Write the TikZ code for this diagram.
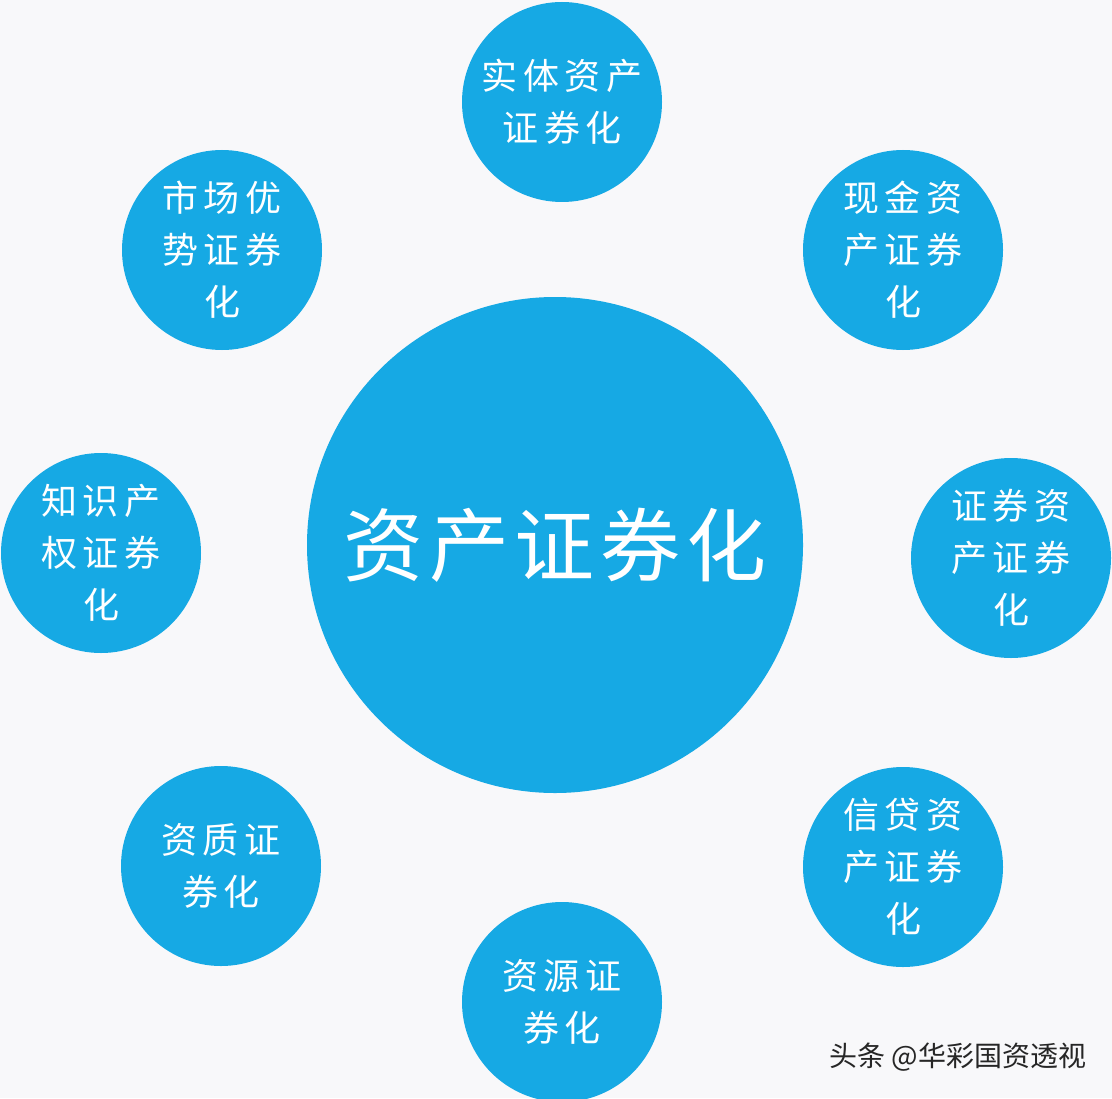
\documentclass[tikz,border=0pt]{standalone}
\usepackage{fontspec}
\newfontfamily\cjkhub[LetterSpace=7]{Noto Sans CJK SC}
\newfontfamily\cjkball[LetterSpace=16]{Noto Sans CJK SC}
\newfontfamily\cjkmark{Noto Sans CJK SC}
\definecolor{ballblue}{RGB}{22,169,228}
\definecolor{paper}{RGB}{248,248,250}

\begin{document}
\begin{tikzpicture}[x=0.75pt, y=-0.75pt,
  ball/.style={circle, fill=ballblue, text=white, inner sep=0pt, minimum size=150pt,
    align=center, font=\cjkball\fontsize{27}{39}\selectfont},
  hub/.style={ball, minimum size=372pt, font=\cjkhub\fontsize{60}{64}\selectfont}]
 \useasboundingbox (0,0) rectangle (1112,1098);
 \fill[paper] (0,0) rectangle (1112,1098);

 \node[hub]  (abs)      at (555, 545)  {资产证券化};
 \node[ball] (entity)   at (562, 102)  {实体资产\\证券化};
 \node[ball] (market)   at (222, 250)  {市场优\\势证券\\化};
 \node[ball] (cash)     at (903, 250)  {现金资\\产证券\\化};
 \node[ball] (ip)       at (101, 553)  {知识产\\权证券\\化};
 \node[ball] (security) at (1011, 558) {证券资\\产证券\\化};
 \node[ball] (quality)  at (221, 866)  {资质证\\券化};
 \node[ball] (credit)   at (903, 867)  {信贷资\\产证券\\化};
 \node[ball] (resource) at (562, 1002) {资源证\\券化};

 \node[font=\cjkmark\fontsize{21}{24}\selectfont, text=black!85] (mark) at (958, 1057) {头条 @华彩国资透视};
\end{tikzpicture}
\end{document}
